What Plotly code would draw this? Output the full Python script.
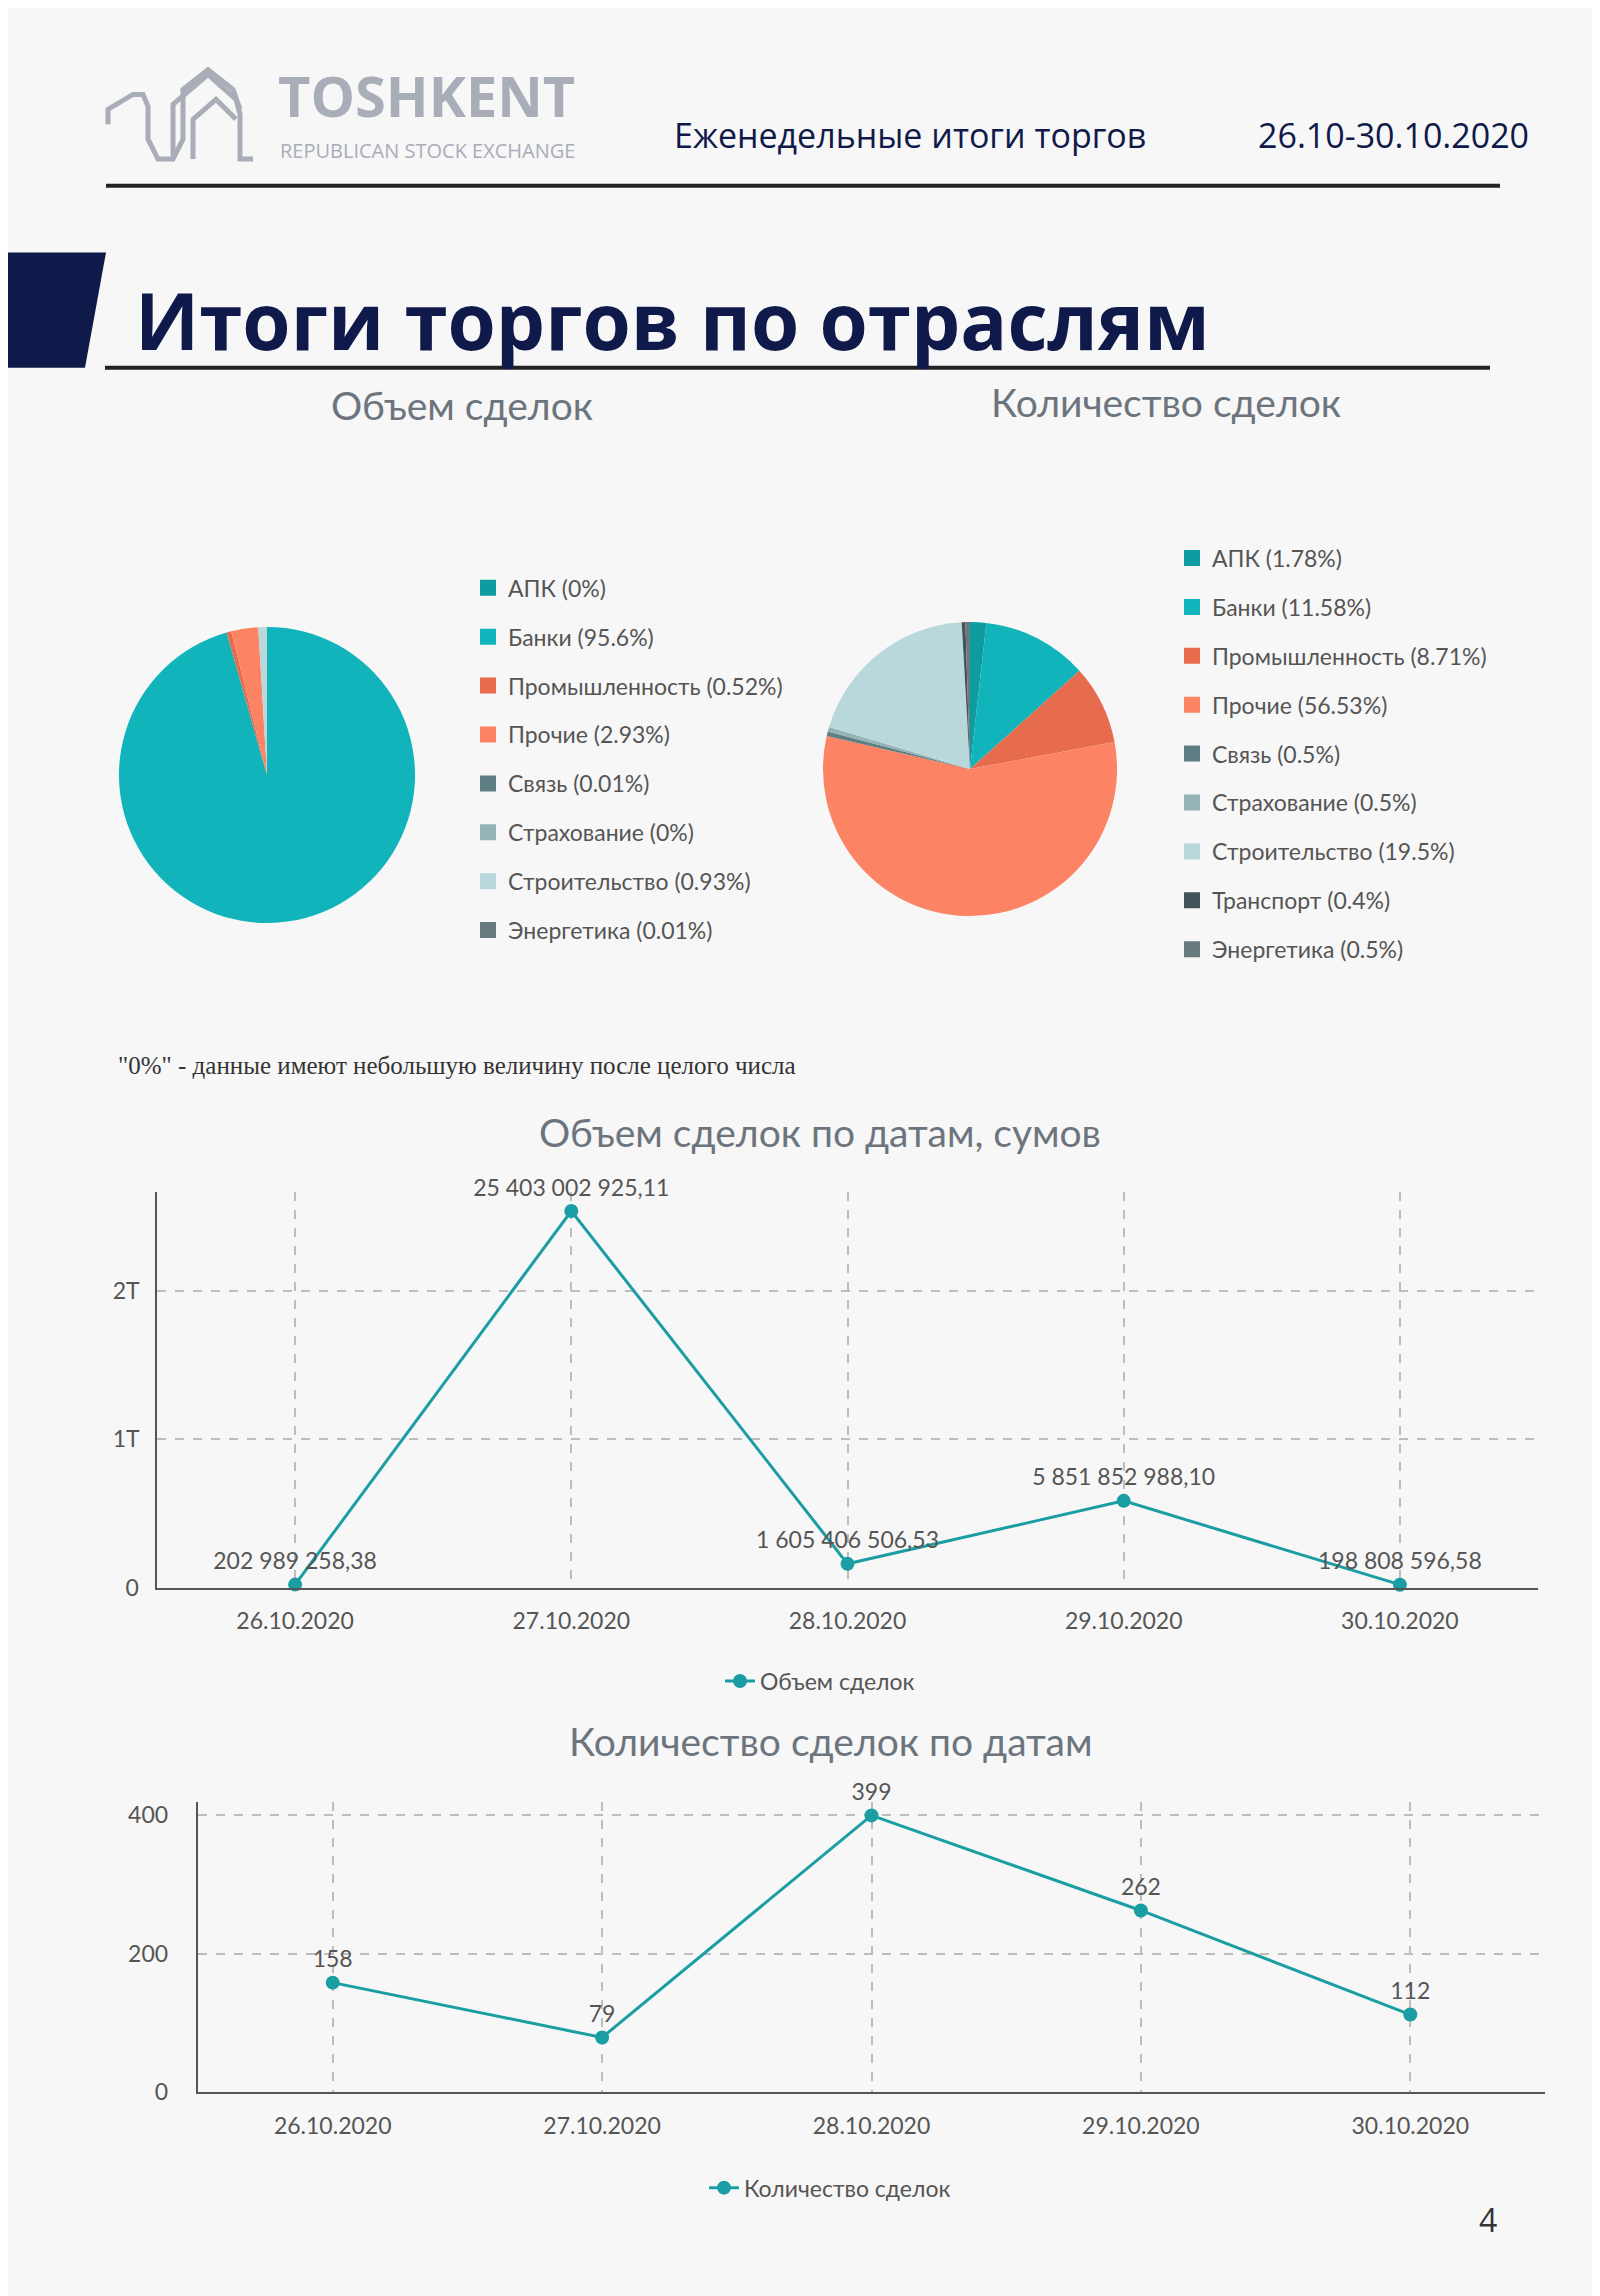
import plotly.graph_objects as go

W, H = 1600, 2296

# ---- data ----
sectors_vol = ["АПК", "Банки", "Промышленность", "Прочие", "Связь",
               "Страхование", "Строительство", "Энергетика"]
share_vol = [0.001, 95.6, 0.52, 2.93, 0.01, 0.001, 0.93, 0.01]
share_vol_text = ["0", "95.6", "0.52", "2.93", "0.01", "0", "0.93", "0.01"]

sectors_cnt = ["АПК", "Банки", "Промышленность", "Прочие", "Связь",
               "Страхование", "Строительство", "Транспорт", "Энергетика"]
share_cnt = [1.78, 11.58, 8.71, 56.53, 0.5, 0.5, 19.5, 0.4, 0.5]

dates = ["26.10.2020", "27.10.2020", "28.10.2020", "29.10.2020", "30.10.2020"]
volume = [20298925838, 2540300292511, 160540650653, 585185298810, 19880859658]
volume_labels = ["202 989 258,38", "25 403 002 925,11", "1 605 406 506,53",
                 "5 851 852 988,10", "198 808 596,58"]
deals = [158, 79, 399, 262, 112]

colors = {"АПК": "#0e9ca1", "Банки": "#10b4ba", "Промышленность": "#e76b4d",
          "Прочие": "#fc8364", "Связь": "#5f7e84", "Страхование": "#94b3b7",
          "Строительство": "#b8d8dc", "Транспорт": "#44545b", "Энергетика": "#687a7e"}
LINE = "#1a9ea3"
NAVY = "#0f1a4a"
GREY = "#6c757d"
FONT = "Lato"


def px(x, y):
    return x / W, 1 - y / H


def dom_x(a, b):
    return [a / W, b / W]


def dom_y(top, bottom):
    return [1 - bottom / H, 1 - top / H]


fig = go.Figure()

# pies
fig.add_trace(go.Pie(
    labels=sectors_vol, values=share_vol, sort=False, direction="clockwise",
    rotation=0, textinfo="none", hoverinfo="label+percent", showlegend=False,
    marker=dict(colors=[colors[s] for s in sectors_vol]),
    domain=dict(x=dom_x(110, 408), y=dom_y(621, 919))))
fig.add_trace(go.Pie(
    labels=sectors_cnt, values=share_cnt, sort=False, direction="clockwise",
    rotation=0, textinfo="none", hoverinfo="label+percent", showlegend=False,
    marker=dict(colors=[colors[s] for s in sectors_cnt]),
    domain=dict(x=dom_x(814, 1110), y=dom_y(616, 912))))

# legend entries for pies (one per group so rows can be spaced)
for s, t in zip(sectors_vol, share_vol_text):
    fig.add_trace(go.Scatter(
        x=[None], y=[None], mode="markers", name=f"{s} ({t}%)",
        marker=dict(symbol="square", size=24, color=colors[s]),
        legend="legend", legendgroup="v" + s, xaxis="x", yaxis="y"))
for s, v in zip(sectors_cnt, share_cnt):
    fig.add_trace(go.Scatter(
        x=[None], y=[None], mode="markers", name=f"{s} ({v:g}%)",
        marker=dict(symbol="square", size=24, color=colors[s]),
        legend="legend2", legendgroup="c" + s, xaxis="x", yaxis="y"))

# line charts
fig.add_trace(go.Scatter(
    x=dates, y=volume, mode="lines+markers+text", name="Объем сделок",
    text=volume_labels, textposition="top center", cliponaxis=False,
    textfont=dict(size=23, color="#555"),
    line=dict(color=LINE, width=3), marker=dict(size=14, color=LINE),
    legend="legend3", xaxis="x", yaxis="y"))
fig.add_trace(go.Scatter(
    x=dates, y=deals, mode="lines+markers+text", name="Количество сделок",
    text=[str(d) for d in deals], textposition="top center", cliponaxis=False,
    textfont=dict(size=23, color="#555"),
    line=dict(color=LINE, width=3), marker=dict(size=14, color=LINE),
    legend="legend4", xaxis="x2", yaxis="y2"))

axis_common = dict(showgrid=True, gridcolor="#bdbdbd", griddash="dash",
                   gridwidth=1.5, zeroline=False, showline=True,
                   linecolor="#555", linewidth=1.5,
                   tickfont=dict(size=23, color="#555", family=FONT))
xaxis_ticks = dict(ticks="outside", ticklen=12, tickcolor="rgba(0,0,0,0)")

fig.update_layout(
    width=W, height=H, margin=dict(l=0, r=0, t=0, b=0),
    paper_bgcolor="#f7f7f7", plot_bgcolor="#f7f7f7",
    font=dict(family=FONT, color="#555"),
    xaxis=dict(domain=dom_x(149, 1530), anchor="y", type="category",
               range=[-0.5, 4.5], **axis_common, **xaxis_ticks),
    yaxis=dict(domain=dom_y(1190, 1588), anchor="x", range=[0, 2.667e12],
               dtick=1e12, tickformat="~s", ticksuffix="  ", ticks="", **axis_common),
    xaxis2=dict(domain=dom_x(190, 1537), anchor="y2", type="category",
                range=[-0.5, 4.5], **axis_common, **xaxis_ticks),
    yaxis2=dict(domain=dom_y(1804, 2096), anchor="x2", range=[0, 418],
                dtick=200, ticksuffix="    ", ticks="", **axis_common),
    legend=dict(x=460 / W, y=1 - 560 / H, xanchor="left", yanchor="top",
                tracegroupgap=16, font=dict(size=23, color="#555"),
                bgcolor="rgba(0,0,0,0)", itemclick=False),
    legend2=dict(x=1164 / W, y=1 - 530 / H, xanchor="left", yanchor="top",
                 tracegroupgap=16, font=dict(size=23, color="#555"),
                 bgcolor="rgba(0,0,0,0)", itemclick=False),
    legend3=dict(x=812 / W, y=1 - 1682 / H, xanchor="center", yanchor="middle",
                 orientation="h", font=dict(size=23, color="#555"),
                 bgcolor="rgba(0,0,0,0)"),
    legend4=dict(x=822 / W, y=1 - 2192 / H, xanchor="center", yanchor="middle",
                 orientation="h", font=dict(size=23, color="#555"),
                 bgcolor="rgba(0,0,0,0)"),
)

ann = []


def text(x, y, s, size, color, family=FONT, anchor="left", bold=False):
    ax, ay = px(x, y)
    ann.append(dict(x=ax, y=ay, xref="paper", yref="paper", text=f"<b>{s}</b>" if bold else s,
                    showarrow=False, xanchor=anchor, yanchor="middle",
                    font=dict(size=size, color=color, family=family)))


text(268, 86, "TOSHKENT", 56, "#a9adb8", "Open Sans", bold=True)
text(270, 141, "REPUBLICAN STOCK EXCHANGE", 20, "#a9adb8", "Open Sans")
text(664, 126, "Еженедельные итоги торгов", 34, NAVY, "Open Sans")
text(1523, 126, "26.10-30.10.2020", 34, NAVY, "Open Sans", anchor="right")
text(125, 312, "Итоги торгов по отраслям", 78, NAVY, "Open Sans", bold=True)
text(454, 398, "Объем сделок", 39, GREY, anchor="center")
text(1158, 395, "Количество сделок", 39, GREY, anchor="center")
text(108, 1062, "\"0%\" - данные имеют небольшую величину после целого числа", 25,
     "#333", "Liberation Serif")
text(812, 1129, "Объем сделок по датам, сумов", 39, GREY, anchor="center")
text(822, 1742, "Количество сделок по датам", 39, GREY, anchor="center")
text(1480, 2224, "4", 32, "#333", "Open Sans", anchor="center")
fig.update_layout(annotations=ann)

shapes = []


def hline(x0, x1, y, w):
    a, b = px(x0, y)
    c, _ = px(x1, y)
    shapes.append(dict(type="line", xref="paper", yref="paper", x0=a, x1=c, y0=b, y1=b,
                       line=dict(color="#222", width=w)))


hline(98, 1492, 177, 4)
hline(97, 1482, 360, 4)

# navy tab
pts = [px(0, 244), px(98, 244), px(77, 360), px(0, 360)]
shapes.append(dict(type="path", xref="paper", yref="paper",
                   path="M " + " L ".join(f"{x},{y}" for x, y in pts) + " Z",
                   fillcolor=NAVY, line=dict(width=0)))

# rough logo outline
logo = [[(100, 115), (100, 100), (125, 85), (135, 85), (140, 97), (140, 130), (150, 150),
         (165, 150), (175, 130), (175, 80), (200, 60), (225, 80), (232, 100)],
        [(165, 150), (165, 95), (200, 65), (228, 90), (232, 105), (232, 150), (245, 150)],
        [(185, 150), (185, 110), (208, 90), (228, 110)]]
for line in logo:
    p = [px(x, y) for x, y in line]
    shapes.append(dict(type="path", xref="paper", yref="paper",
                       path="M " + " L ".join(f"{x},{y}" for x, y in p),
                       line=dict(color="#a9adb8", width=5)))
fig.update_layout(shapes=shapes)

fig.write_html("out.html")
